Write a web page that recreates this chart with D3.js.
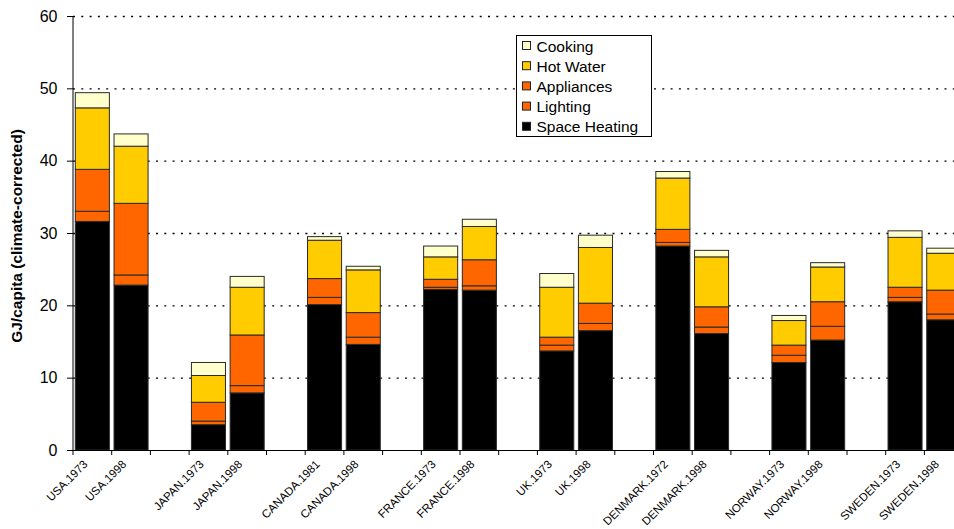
<!DOCTYPE html>
<html>
<head>
<meta charset="utf-8">
<script src="https://cdn.jsdelivr.net/npm/d3@7"></script>
<style>
  html, body { margin: 0; padding: 0; background: #fff; }
  svg { display: block; font-family: "Liberation Sans", Arial, sans-serif; }
</style>
</head>
<body>
<svg id="chart" width="954" height="529"></svg>
<script>
// Residential energy use per capita by end use (GJ/capita, climate-corrected)
const categories = [
  "USA.1973", "USA.1998", "JAPAN.1973", "JAPAN.1998",
  "CANADA.1981", "CANADA.1998", "FRANCE.1973", "FRANCE.1998",
  "UK.1973", "UK.1998", "DENMARK.1972", "DENMARK.1998",
  "NORWAY.1973", "NORWAY.1998", "SWEDEN.1973", "SWEDEN.1998"
];
const spaceHeating = [31.6, 22.8, 3.5, 7.9, 20.1, 14.6, 22.2, 22.1, 13.7, 16.5, 28.2, 16.1, 12.1, 15.2, 20.5, 18.0];
const lighting     = [1.4, 1.4, 0.5, 1.0, 1.0, 1.0, 0.3, 0.6, 0.8, 1.0, 0.5, 0.9, 1.0, 1.9, 0.6, 0.8];
const appliances   = [5.8, 9.9, 2.6, 7.0, 2.6, 3.4, 1.1, 3.6, 1.1, 2.8, 1.8, 2.8, 1.4, 3.4, 1.4, 3.3];
const hotWater     = [8.5, 7.9, 3.7, 6.6, 5.3, 5.9, 3.1, 4.6, 6.9, 7.7, 7.1, 6.9, 3.4, 4.8, 6.9, 5.1];
const cooking      = [2.1, 1.7, 1.8, 1.5, 0.5, 0.5, 1.5, 1.0, 1.9, 1.7, 0.9, 0.9, 0.7, 0.6, 0.9, 0.7];

const seriesNames  = ["Space Heating", "Lighting", "Appliances", "Hot Water", "Cooking"];
const seriesColors = ["#000000", "#FF6600", "#FF6600", "#FFCC00", "#FFFFCC"];
const yTicks = [0, 10, 20, 30, 40, 50, 60];

const seriesValues = [spaceHeating, lighting, appliances, hotWater, cooking];

// Rows for the stack: one per category
const rows = categories.map((c, i) => {
  const r = { key: c };
  seriesNames.forEach((s, j) => { r[s] = seriesValues[j][i]; });
  return r;
});

// Slots: each country pair followed by an empty slot
const slots = [];
categories.forEach((c, i) => {
  slots.push(c);
  if (i % 2 === 1 && i < categories.length - 1) slots.push("gap" + i);
});

const svg = d3.select("#chart");
const plotLeft = 73, plotTop = 16, plotBottom = 450;
const step = 38.7;
const plotRight = plotLeft + step * slots.length;

const x = d3.scaleBand().domain(slots).range([plotLeft, plotRight])
  .paddingInner(0.12).paddingOuter(0.06);
const y = d3.scaleLinear().domain([0, 60]).range([plotBottom, plotTop]);

// Dotted gridlines
svg.append("g").selectAll("line")
  .data(yTicks.filter(t => t > 0))
  .join("line")
  .attr("x1", plotLeft).attr("x2", 954)
  .attr("y1", d => y(d) + 0.5).attr("y2", d => y(d) + 0.5)
  .attr("stroke", "#000").attr("stroke-width", 1.3)
  .attr("stroke-dasharray", "2,6.3");

// Stacked bars
const stack = d3.stack().keys(seriesNames);
const layers = stack(rows);
svg.append("g").selectAll("g")
  .data(layers)
  .join("g")
  .attr("fill", (d, i) => seriesColors[i])
  .selectAll("rect")
  .data(d => d)
  .join("rect")
  .attr("x", d => x(d.data.key))
  .attr("width", x.bandwidth())
  .attr("y", d => y(d[1]))
  .attr("height", d => y(d[0]) - y(d[1]))
  .attr("stroke", "#2a2a2a")
  .attr("stroke-width", 1);

// Y axis
const yAxis = svg.append("g").attr("transform", `translate(${plotLeft},0)`);
yAxis.append("line").attr("x1", 0).attr("x2", 0).attr("y1", plotTop).attr("y2", plotBottom)
  .attr("stroke", "#000");
yAxis.selectAll("line.tick").data(yTicks).join("line").attr("class", "tick")
  .attr("x1", -6).attr("x2", 0)
  .attr("y1", d => y(d) + 0.5).attr("y2", d => y(d) + 0.5)
  .attr("stroke", "#000");
yAxis.selectAll("text").data(yTicks).join("text")
  .attr("x", -15.5).attr("y", d => y(d))
  .attr("dy", "0.36em")
  .attr("text-anchor", "end")
  .attr("font-size", 16)
  .attr("fill", "#000")
  .text(d => d);

// Y axis title
svg.append("text")
  .attr("transform", "translate(22,236) rotate(-90)")
  .attr("text-anchor", "middle")
  .attr("font-size", 15.5)
  .attr("font-weight", "bold")
  .text("GJ/capita (climate-corrected)");

// X axis
const xAxis = svg.append("g");
xAxis.append("line").attr("x1", plotLeft).attr("x2", 954)
  .attr("y1", plotBottom + 0.5).attr("y2", plotBottom + 0.5).attr("stroke", "#000");
const boundaries = d3.range(slots.length + 1).map(i => x.range()[0] + i * x.step());
xAxis.selectAll("line.tick").data(boundaries).join("line").attr("class", "tick")
  .attr("x1", d => d).attr("x2", d => d)
  .attr("y1", plotBottom).attr("y2", plotBottom + 5)
  .attr("stroke", "#000");
xAxis.selectAll("text").data(categories).join("text")
  .attr("transform", d => `translate(${x(d) + x.bandwidth() / 2 - 4},${plotBottom + 15}) rotate(-45)`)
  .attr("text-anchor", "end")
  .attr("font-size", 11.5)
  .attr("fill", "#000")
  .text(d => d);

// Legend
const legend = svg.append("g");
legend.append("rect")
  .attr("x", 516.5).attr("y", 35.5).attr("width", 135).attr("height", 101)
  .attr("fill", "#fff").attr("stroke", "#000");
const legendOrder = [4, 3, 2, 1, 0];
legend.selectAll("g.item").data(legendOrder).join("g").attr("class", "item")
  .attr("transform", (d, i) => `translate(522,${46 + i * 20.2})`)
  .each(function (d) {
    const g = d3.select(this);
    g.append("rect").attr("x", 0.5).attr("y", -4.5).attr("width", 8).attr("height", 8)
      .attr("fill", seriesColors[d]).attr("stroke", "#222");
    g.append("text").attr("x", 14.5).attr("y", 0).attr("dy", "0.36em")
      .attr("font-size", 15.5).attr("fill", "#000")
      .text(seriesNames[d]);
  });
</script>
</body>
</html>
